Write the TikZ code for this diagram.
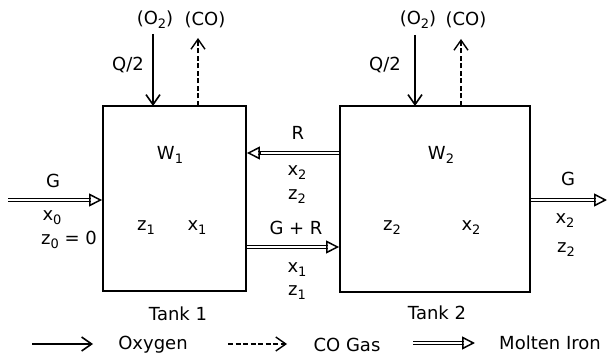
\documentclass[tikz,border=0pt]{standalone}
\usepackage{fontspec}
\setmainfont{DejaVu Sans}
\usetikzlibrary{arrows.meta,calc}
\newcommand\sbs[1]{\raisebox{-0.4ex}{\fontsize{13}{13}\selectfont #1}}
\tikzset{
  lbl/.style={inner sep=0pt, font=\fontsize{18}{18}\selectfont},
  tank/.style={draw, line width=1.9pt, minimum width=#1, inner sep=0pt},
  oxy/.style={line width=1.6pt, -{Straight Barb[length=10pt,width=14pt,line width=1.6pt]}},
  gas/.style={line width=1.3pt, dash pattern=on 5pt off 2.5pt, -{Straight Barb[length=10pt,width=14pt,line width=1.4pt,sep=0pt]}},
  dblline/.style={line width=1.5pt, double=white, double distance=1.8pt},
  dbltip/.style={line width=1.5pt, -{Triangle[open,length=13pt,width=13pt,line width=1.5pt]}},
}
\newcommand\dblarrow[2]{%
  \draw[dblline, shorten >=11pt] (#1) -- (#2);
  \draw[dbltip] ($(#2)!13pt!(#1)$) -- (#2);
}
\begin{document}
\begin{tikzpicture}[x=1pt,y=-1pt]
\useasboundingbox (0,0) rectangle (608,358);
% tanks
\node[tank=143pt, minimum height=185pt] (t1) at (174.5,198.5) {};
\node[tank=190pt, minimum height=186pt] (t2) at (435,199) {};
\node[lbl] (w1) at (170,155) {W\sbs{1}};
\node[lbl] (w2) at (441,155) {W\sbs{2}};
\node[lbl] (z1in) at (146,228) {z\sbs{1}};
\node[lbl] (x1in) at (197,228) {x\sbs{1}};
\node[lbl] (z2in) at (392,228) {z\sbs{2}};
\node[lbl] (x2in) at (471,228) {x\sbs{2}};
\node[lbl] (tk1) at (178,314) {Tank 1};
\node[lbl] (tk2) at (437,313) {Tank 2};
% top labels
\node[lbl] (o21) at (155,20) {(O\sbs{2})};
\node[lbl] (co1) at (205,20) {(CO)};
\node[lbl] (o22) at (418,20) {(O\sbs{2})};
\node[lbl] (co2) at (466,20) {(CO)};
\node[lbl] (q1) at (128,65) {Q/2};
\node[lbl] (q2) at (385,65) {Q/2};
\coordinate (o1s) at (153,34); \coordinate (o1e) at (153,106);
\coordinate (c1s) at (198,106); \coordinate (c1e) at (198,38);
\coordinate (o2s) at (415,35); \coordinate (o2e) at (415,106);
\coordinate (c2s) at (461,106); \coordinate (c2e) at (461,39);
\draw[oxy] (o1s) -- (o1e);
\draw[gas] (c1s) -- (c1e);
\draw[oxy] (o2s) -- (o2e);
\draw[gas] (c2s) -- (c2e);
% inlet
\coordinate (gin) at (8,200);
\coordinate (gint) at (t1.west |- gin);
\dblarrow{gin}{gint}
\node[lbl] (gl) at (53,181) {G};
\node[lbl] (x0) at (52,218) {x\sbs{0}};
\node[lbl] (z0) at (69,240) {z\sbs{0} = 0};
% recycle
\coordinate (rs) at (t2.west |- 0,153);
\coordinate (re) at (t1.east |- 0,153);
\dblarrow{rs}{re}
\node[lbl] (rl) at (298,133) {R};
\node[lbl] (x2m) at (297,173) {x\sbs{2}};
\node[lbl] (z2m) at (297,197) {z\sbs{2}};
% forward
\coordinate (fs) at (t1.east |- 0,247);
\coordinate (fe) at (t2.west |- 0,247);
\dblarrow{fs}{fe}
\node[lbl] (grl) at (296,228) {G + R};
\node[lbl] (x1m) at (297,270) {x\sbs{1}};
\node[lbl] (z1m) at (297,293) {z\sbs{1}};
% outlet
\coordinate (os) at (t2.east |- 0,200);
\coordinate (oe) at (607,200);
\dblarrow{os}{oe}
\node[lbl] (gol) at (568,179) {G};
\node[lbl] (x2o) at (565,221) {x\sbs{2}};
\node[lbl] (z2o) at (566,250) {z\sbs{2}};
% legend
\coordinate (l1s) at (32,344); \coordinate (l1e) at (93,344);
\coordinate (l2s) at (228,344); \coordinate (l2e) at (287,344);
\coordinate (l3s) at (413,343); \coordinate (l3e) at (475,343);
\draw[oxy] (l1s) -- (l1e);
\draw[gas] (l2s) -- (l2e);
\dblarrow{l3s}{l3e}
\node[lbl] (lo) at (153,345) {Oxygen};
\node[lbl] (lc) at (347,345) {CO Gas};
\node[lbl] (lm) at (550,343) {Molten Iron};
\end{tikzpicture}
\end{document}
